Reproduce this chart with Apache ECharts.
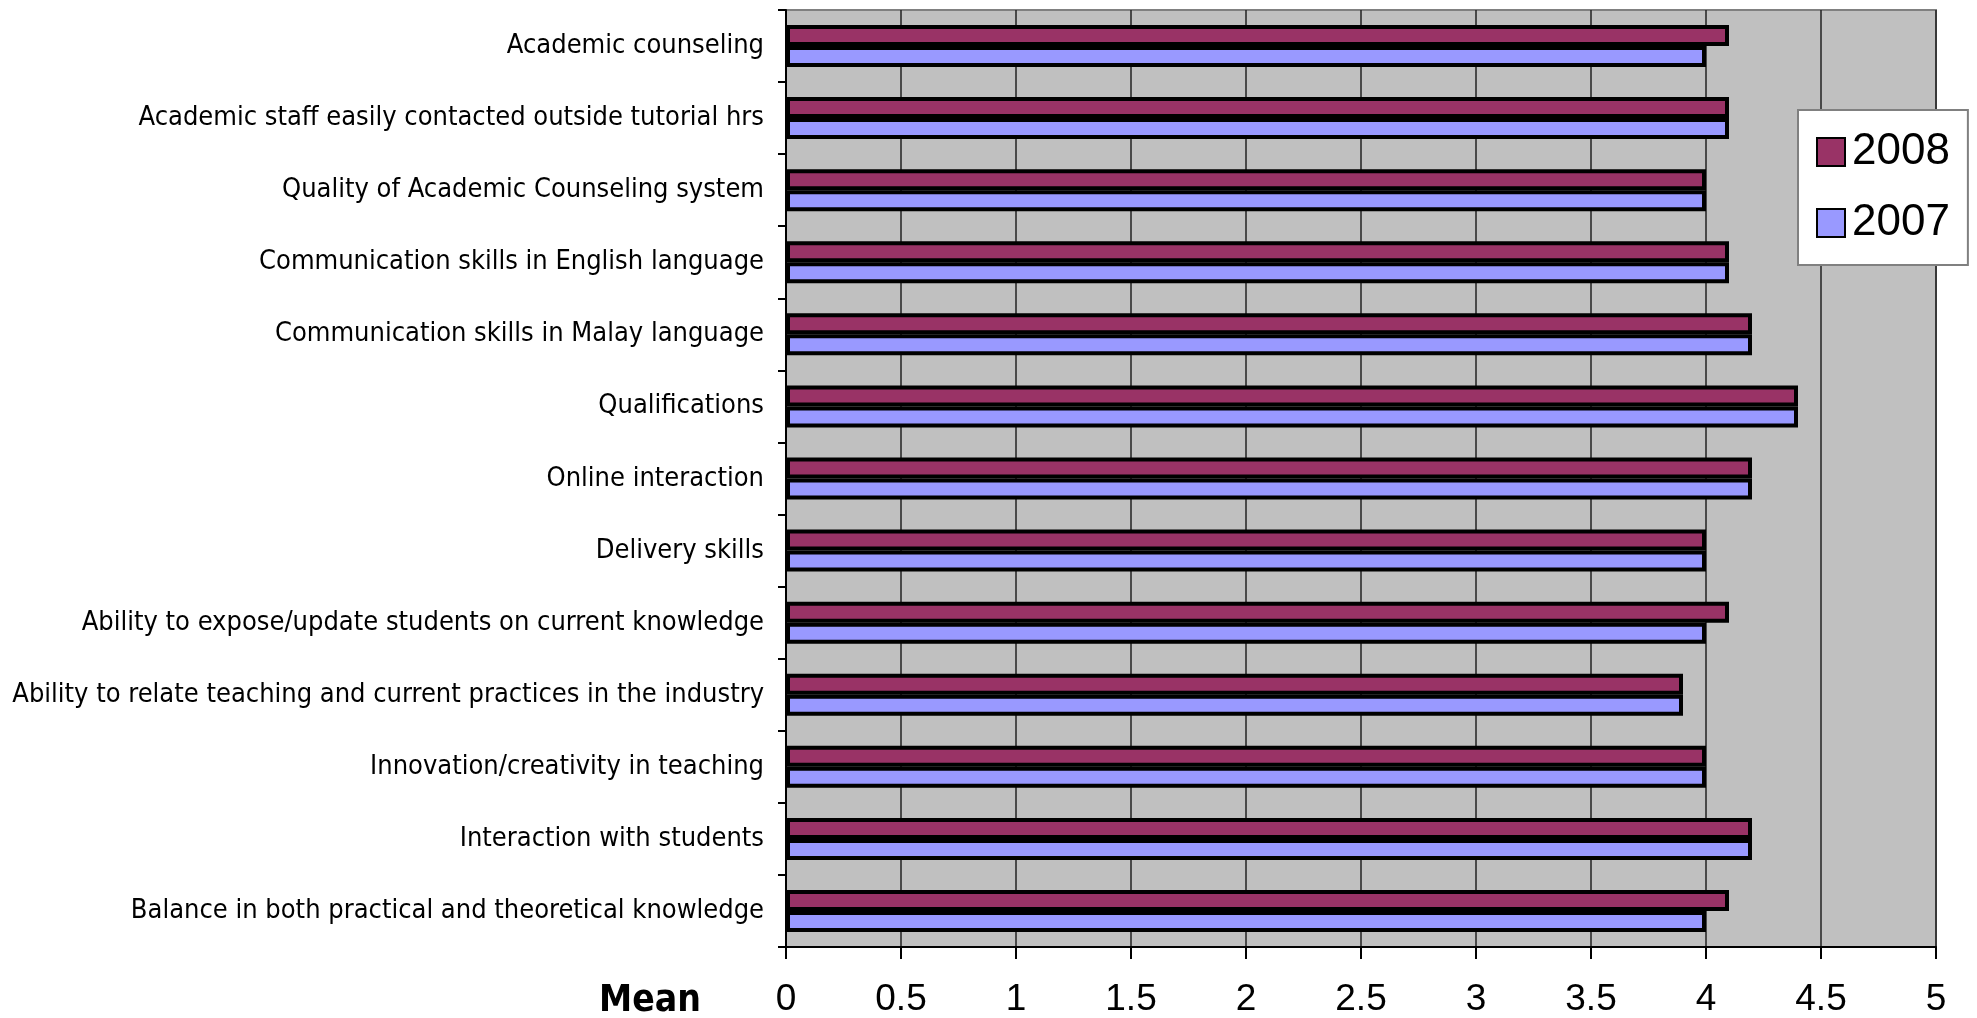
<!DOCTYPE html>
<html>
<head>
<meta charset="utf-8">
<script src="https://cdn.jsdelivr.net/npm/echarts@6/dist/echarts.min.js"></script>
<style>
  html, body { margin: 0; padding: 0; background: #ffffff; }
  #chart { width: 1977px; height: 1018px; }
</style>
</head>
<body>
<div id="chart"></div>
<script>
// Survey items, listed top to bottom
const categories = [
  'Academic counseling',
  'Academic staff easily contacted outside tutorial hrs',
  'Quality of Academic Counseling system',
  'Communication skills in English language',
  'Communication skills in Malay language',
  'Qualifications',
  'Online interaction',
  'Delivery skills',
  'Ability to expose/update students on current knowledge',
  'Ability to relate teaching and current practices in the industry',
  'Innovation/creativity in teaching',
  'Interaction with students',
  'Balance in both practical and theoretical knowledge'
];

// Mean scores per year
const mean2008 = [4.1, 4.1, 4.0, 4.1, 4.2, 4.4, 4.2, 4.0, 4.1, 3.9, 4.0, 4.2, 4.1];
const mean2007 = [4.0, 4.1, 4.0, 4.1, 4.2, 4.4, 4.2, 4.0, 4.0, 3.9, 4.0, 4.2, 4.0];

const seriesNames = ['2008', '2007'];
const axisMin = 0, axisMax = 5, axisStep = 0.5;

const chart = echarts.init(document.getElementById('chart'), null, { renderer: 'canvas' });

const labelFont = "'Liberation Sans Narrow', 'Arial Narrow', 'DejaVu Sans Condensed', sans-serif";

chart.setOption({
  backgroundColor: '#ffffff',
  animation: false,
  grid: {
    left: 786, right: 41, top: 10, bottom: 70,
    show: true,
    backgroundColor: '#c0c0c0',
    borderColor: '#808080',
    borderWidth: 2
  },
  legend: {
    data: seriesNames,
    orient: 'vertical',
    left: 1798, top: 110,
    width: 166,
    padding: [20, 18, 20, 18],
    backgroundColor: '#ffffff',
    borderColor: '#808080',
    borderWidth: 2,
    itemWidth: 28, itemHeight: 28,
    itemGap: 27,
    icon: 'rect',
    textStyle: { fontFamily: "'Liberation Sans', Arial, sans-serif", fontSize: 44, color: '#000', padding: [0, 0, 0, 2] }
  },
  xAxis: {
    type: 'value',
    min: axisMin, max: axisMax, interval: axisStep,
    axisLine: { show: true, lineStyle: { color: '#000', width: 2 } },
    axisTick: { show: true, length: 12, lineStyle: { color: '#000', width: 2 } },
    axisLabel: {
      margin: 34,
      fontFamily: "'Liberation Sans', Arial, sans-serif",
      fontSize: 37, color: '#000'
    },
    splitLine: { show: true, lineStyle: { color: '#222', width: 1.5 } }
  },
  yAxis: {
    type: 'category',
    data: categories,
    inverse: true,
    axisLine: { show: true, lineStyle: { color: '#000', width: 2 } },
    axisTick: { show: true, length: 8, lineStyle: { color: '#000', width: 2 } },
    axisLabel: {
      margin: 22,
      fontFamily: labelFont,
      fontSize: 27, color: '#000'
    },
    splitLine: { show: false }
  },
  series: [
    {
      name: seriesNames[0], type: 'bar', data: mean2008,
      barWidth: 21, barGap: '0%',
      itemStyle: { color: '#993366', borderColor: '#000', borderWidth: 4 }
    },
    {
      name: seriesNames[1], type: 'bar', data: mean2007,
      barWidth: 21, barGap: '0%',
      itemStyle: { color: '#9999ff', borderColor: '#000', borderWidth: 4 }
    }
  ],
  graphic: [
    {
      type: 'text', left: 599, top: 983,
      style: {
        text: 'Mean',
        fontFamily: "'Liberation Sans Narrow', 'Arial Narrow', 'DejaVu Sans Condensed', sans-serif",
        fontWeight: 'bold', fontSize: 37, fill: '#000'
      }
    }
  ]
});
</script>
</body>
</html>
